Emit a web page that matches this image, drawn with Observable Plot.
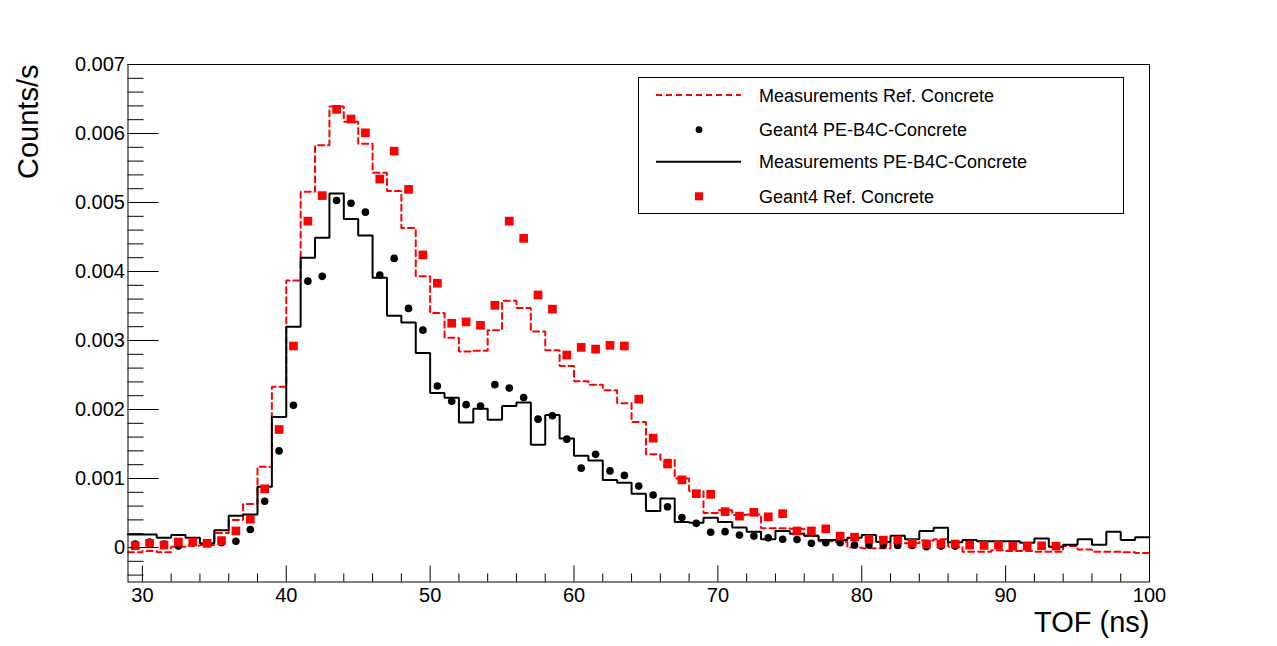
<!DOCTYPE html>
<html>
<head>
<meta charset="utf-8">
<script src="https://cdn.jsdelivr.net/npm/d3@7"></script>
<script src="https://cdn.jsdelivr.net/npm/@observablehq/plot@0.6"></script>
<style>
  html, body { margin: 0; padding: 0; background: white; }
  #chart { width: 1277px; height: 646px; }
</style>
</head>
<body>
<div id="chart"></div>
<script>
// ---- Data (TOF in ns, rates in Counts/s) ----
const binStart = 29;          // lower edge of first 1-ns bin
const binWidth = 1;

// Measurements Ref. Concrete (red dashed histogram), bins 29..99
const measRef = [
  -0.00007, -0.00005, -0.00007, 0.00001, 0.000025, 0.000035, 0.00021, 0.00040, 0.00063, 0.00117,
  0.00233, 0.00387, 0.005155, 0.00583, 0.00639, 0.00617, 0.00585, 0.00543, 0.005165, 0.00463,
  0.00393, 0.00340, 0.00304, 0.00284, 0.00285, 0.00315, 0.003575, 0.00347, 0.00313, 0.00286,
  0.00263, 0.00241, 0.00236, 0.00228, 0.00209, 0.00182, 0.00135, 0.00127, 0.00100, 0.00082,
  0.00050, 0.00054, 0.00047, 0.00048, 0.00028, 0.00028, 0.00027, 0.00017, 0.00009, 0.00008,
  0.00000, -0.00001, -0.00001, 0.00006, 0.00006, 0.00010, 0.00012, 0.00001, -0.00006, -0.00006,
  -0.00004, -0.00005, -0.00005, -0.00006, -0.00006, 0.00002, -0.00003, -0.00006, -0.00006, -0.00007,
  -0.00008
];

// Measurements PE-B4C-Concrete (black solid histogram), bins 29..99
const measPE = [
  0.00019, 0.00019, 0.00014, 0.00018, 0.00014, 0.00006, 0.00025, 0.00046, 0.00048, 0.00088,
  0.00189, 0.00320, 0.00420, 0.00449, 0.00513, 0.00476, 0.00452, 0.00391, 0.00336, 0.00326,
  0.00282, 0.00224, 0.00217, 0.00181, 0.00201, 0.00185, 0.00205, 0.00210, 0.00149, 0.00192,
  0.00158, 0.00133, 0.00126, 0.00098, 0.00094, 0.00078, 0.00053, 0.00071, 0.00037, 0.00036,
  0.00043, 0.00037, 0.00029, 0.00023, 0.00012, 0.00024, 0.00020, 0.00017, 0.00011, 0.00011,
  0.00014, 0.00018, 0.00008, 0.00017, 0.00012, 0.00024, 0.000285, 0.000075, 0.00011, 0.00009,
  0.00009, 0.00009, 0.00007, 0.00013, 0.00001, 0.00004, 0.00012, 0.00004, 0.00023, 0.00011,
  0.00015
];

// Geant4 PE-B4C-Concrete (black dots) at bin centres 29.5 .. 86.5
const g4PE = [
  0.00005, 0.00008, 0.00005, 0.00002, 0.00007, 0.00006, 0.00007, 0.00009, 0.00026, 0.00067,
  0.00140, 0.00206, 0.00386, 0.00393, 0.00503, 0.00499, 0.00486, 0.00395, 0.00419, 0.003465,
  0.00315, 0.00234, 0.00212, 0.00207, 0.00205, 0.00236, 0.00231, 0.002175, 0.00186, 0.00191,
  0.00157, 0.00115, 0.00135, 0.00111, 0.001045, 0.00089, 0.00076, 0.00059, 0.000435, 0.00035,
  0.00022, 0.00023, 0.00018, 0.000165, 0.00014, 0.00012, 0.000117, 0.00006, 0.00007, 0.00007,
  0.000035, 0.000035, 0.000035, 0.00003, 0.00003, 0.00001, 0.00002, 0.00002
];

// Geant4 Ref. Concrete (red squares) at bin centres 29.5 .. 93.5
const g4Ref = [
  0.000025, 0.00006, 0.000035, 0.00008, 0.00008, 0.00006, 0.00010, 0.00024, 0.00041, 0.00085,
  0.00171, 0.00292, 0.00473, 0.00510, 0.00635, 0.00621, 0.00601, 0.00534, 0.005745, 0.00519,
  0.00424, 0.00383, 0.00325, 0.00327, 0.00322, 0.00351, 0.00473, 0.00448, 0.00366, 0.003455,
  0.00279, 0.00290, 0.002875, 0.00293, 0.00292, 0.00215, 0.001585, 0.00121, 0.00098, 0.00078,
  0.00077, 0.00052, 0.000455, 0.00051, 0.000445, 0.00049, 0.00024, 0.00024, 0.00027, 0.000165,
  0.00015, 0.00012, 0.000107, 0.000107, 0.00006, 0.00005, 0.00005, 0.00005, 0.000035, 0.00003,
  0.000035, 0.00002, 0.00002, 0.000025, 0.00002
];

const xMajor = [30, 40, 50, 60, 70, 80, 90, 100];
const xMinor = [32, 34, 36, 38, 42, 44, 46, 48, 52, 54, 56, 58, 62, 64, 66, 68, 72, 74, 76, 78, 82, 84, 86, 88, 92, 94, 96, 98];
const yMajor = [0, 0.001, 0.002, 0.003, 0.004, 0.005, 0.006, 0.007];
const yMinor = [-0.0004, -0.0002, 0.0002, 0.0004, 0.0006, 0.0008, 0.0012, 0.0014, 0.0016, 0.0018,
  0.0022, 0.0024, 0.0026, 0.0028, 0.0032, 0.0034, 0.0036, 0.0038, 0.0042, 0.0044, 0.0046, 0.0048,
  0.0052, 0.0054, 0.0056, 0.0058, 0.0062, 0.0064, 0.0066, 0.0068];

const legendItems = ["Measurements Ref. Concrete", "Geant4 PE-B4C-Concrete", "Measurements PE-B4C-Concrete", "Geant4 Ref. Concrete"];
const xTitle = "TOF (ns)";
const yTitle = "Counts/s";

// ---- Build tables ----
function stepTable(values) {
  const rows = values.map((v, i) => ({x: binStart + i * binWidth, y: v}));
  rows.push({x: binStart + values.length * binWidth, y: values[values.length - 1]});
  return rows;
}
function pointTable(values) {
  return values.map((v, i) => ({x: binStart + (i + 0.5) * binWidth, y: v}));
}

const font = "'Liberation Sans', Arial, Helvetica, sans-serif";

const plot = Plot.plot({
  width: 1277,
  height: 646,
  marginLeft: 127.5,
  marginRight: 128,
  marginTop: 64,
  marginBottom: 64.5,
  x: {domain: [29, 100]},
  y: {domain: [-0.0005, 0.007]},
  style: {fontFamily: font, fontSize: "20px", background: "white", color: "black"},
  marks: [
    Plot.line(stepTable(measRef), {x: "x", y: "y", curve: "step-after", stroke: "#ff0000", strokeWidth: 2, strokeDasharray: "6,4", strokeLinejoin: "miter"}),
    Plot.dot(pointTable(g4PE), {x: "x", y: "y", r: 3.8, fill: "black", stroke: "none"}),
    Plot.line(stepTable(measPE), {x: "x", y: "y", curve: "step-after", stroke: "black", strokeWidth: 2, strokeLinejoin: "miter"}),
    Plot.dot(pointTable(g4Ref), {x: "x", y: "y", r: 4.9, symbol: "square", fill: "#ff0000", stroke: "none"}),
    Plot.frame({stroke: "black", strokeWidth: 1}),
    Plot.axisX({ticks: xMajor, tickSize: -16, tickPadding: 22, tickFormat: d => String(d), label: null, fontSize: 20}),
    Plot.axisX({ticks: xMinor, tickSize: -8, tickFormat: () => "", label: null}),
    Plot.axisY({ticks: yMajor, tickSize: -31, tickPadding: 34, tickFormat: d => d === 0 ? "0" : d3.format(".3f")(d), label: null, fontSize: 20}),
    Plot.axisY({ticks: yMinor, tickSize: -16, tickFormat: () => "", label: null}),
    Plot.text([xTitle], {frameAnchor: "bottom-right", textAnchor: "end", lineAnchor: "middle", dy: 41, fontSize: 29}),
    Plot.text([yTitle], {frameAnchor: "top-left", textAnchor: "end", lineAnchor: "middle", rotate: -90, dx: -99, fontSize: 29})
  ]
});

document.getElementById("chart").appendChild(plot);

// ---- Legend box (inside the frame, as in the reference) ----
const svg = d3.select(plot);
const lg = svg.append("g").attr("font-family", font).attr("font-size", 18).attr("text-anchor", "start");
lg.append("rect").attr("x", 638.5).attr("y", 77.5).attr("width", 485).attr("height", 136)
  .attr("fill", "white").attr("stroke", "black").attr("stroke-width", 1);
const rowsY = [95, 129.7, 161.7, 196.3];
// symbols
lg.append("line").attr("x1", 656).attr("x2", 741).attr("y1", rowsY[0]).attr("y2", rowsY[0])
  .attr("stroke", "#ff0000").attr("stroke-width", 2).attr("stroke-dasharray", "6,4");
lg.append("circle").attr("cx", 699).attr("cy", rowsY[1]).attr("r", 3.4).attr("fill", "black");
lg.append("line").attr("x1", 656).attr("x2", 741).attr("y1", rowsY[2]).attr("y2", rowsY[2])
  .attr("stroke", "black").attr("stroke-width", 2);
lg.append("rect").attr("x", 695).attr("y", rowsY[3] - 4).attr("width", 8).attr("height", 8).attr("fill", "#ff0000");
legendItems.forEach((t, i) => {
  lg.append("text").attr("x", 759).attr("y", rowsY[i] + 6.5).attr("text-anchor", "start").attr("fill", "black").text(t);
});
</script>
</body>
</html>
